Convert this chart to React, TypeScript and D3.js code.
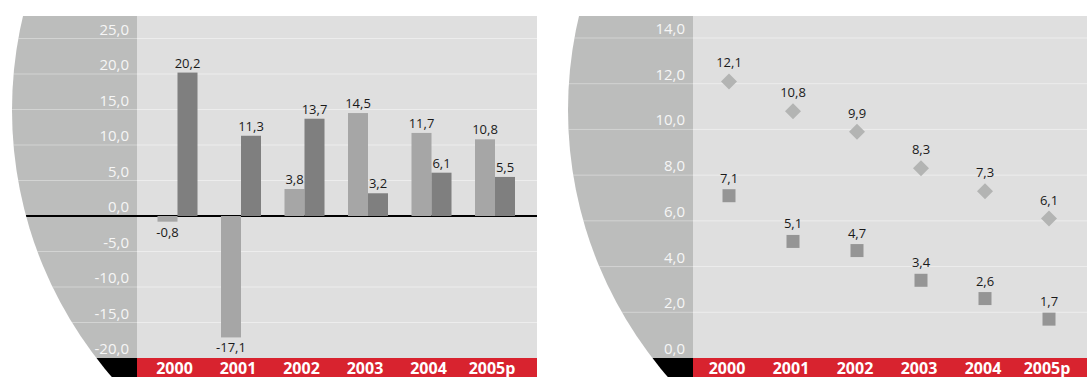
import React from "react";
import * as d3 from "d3";

const years = ["2000", "2001", "2002", "2003", "2004", "2005p"];
const barsLight = [-0.8, -17.1, 3.8, 14.5, 11.7, 10.8];
const barsDark = [20.2, 11.3, 13.7, 3.2, 6.1, 5.5];
const leftTicks = [25, 20, 15, 10, 5, 0, -5, -10, -15, -20];
const diamonds = [12.1, 10.8, 9.9, 8.3, 7.3, 6.1];
const squares = [7.1, 5.1, 4.7, 3.4, 2.6, 1.7];
const rightTicks = [14, 12, 10, 8, 6, 4, 2, 0];

const W = 1087;
const H = 377;
const TOP = 16;
const RED_Y = 358;
const FONT = "'Open Sans', 'Noto Sans', sans-serif";
const fmt = (v: number) => v.toFixed(1).replace(".", ",");

const COL_BG = "#bcbdbc";
const PLOT_BG = "#dfdfdf";
const RED = "#d8232f";

function Panel({
  id,
  colRight,
  plotRight,
  cx,
  y,
  ticks,
  children,
  zeroLine,
}: {
  id: string;
  colRight: number;
  plotRight: number;
  cx: number;
  y: d3.ScaleLinear<number, number>;
  ticks: number[];
  children: React.ReactNode;
  zeroLine: boolean;
}) {
  const cy = 110;
  const R = 407;
  return (
    <g>
      <defs>
        <clipPath id={id}>
          <circle cx={cx} cy={cy} r={R} />
        </clipPath>
      </defs>
      <g clipPath={`url(#${id})`}>
        <rect x={0} y={TOP} width={colRight} height={RED_Y - TOP} fill={COL_BG} />
        <rect x={0} y={RED_Y} width={colRight} height={H - RED_Y} fill="#000" />
        {ticks
          .filter((t) => y(t) < RED_Y - 1)
          .map((t) => (
            <line
              key={t}
              x1={0}
              x2={colRight}
              y1={y(t)}
              y2={y(t)}
              stroke="#fff"
              strokeOpacity={0.35}
              strokeWidth={1}
            />
          ))}
        {zeroLine && (
          <line x1={0} x2={colRight} y1={y(0)} y2={y(0)} stroke="#000" strokeWidth={2} />
        )}
      </g>
      <rect x={colRight} y={TOP} width={plotRight - colRight} height={RED_Y - TOP} fill={PLOT_BG} />
      <rect x={colRight} y={RED_Y} width={plotRight - colRight} height={H - RED_Y} fill={RED} />
      {ticks
        .filter((t) => y(t) < RED_Y - 1 && !(zeroLine && t === 0))
        .map((t) => (
          <line
            key={t}
            x1={colRight}
            x2={plotRight}
            y1={y(t)}
            y2={y(t)}
            stroke="#fff"
            strokeOpacity={0.45}
            strokeWidth={1}
          />
        ))}
      {ticks.map((t) => (
        <text
          key={t}
          x={colRight - 8}
          y={y(t) - 4}
          textAnchor="end"
          fontSize={15}
          fill="#f6f6f6"
          fontFamily={FONT}
        >
          {fmt(t)}
        </text>
      ))}
      {zeroLine && (
        <line x1={colRight} x2={plotRight} y1={y(0)} y2={y(0)} stroke="#000" strokeWidth={2} />
      )}
      {children}
    </g>
  );
}

export default function App() {
  // Left panel
  const yL = d3.scaleLinear().domain([-20, 25]).range([RED_Y, 38.5]);
  const xL = d3.scalePoint<string>().domain(years).range([177.5, 495]);
  const bw = 20;

  // Right panel
  const yR = d3.scaleLinear().domain([0, 14]).range([RED_Y, 38]);
  const xR = d3.scalePoint<string>().domain(years).range([729, 1049]);

  const diamond = d3.symbol().type(d3.symbolSquare).size(128)();

  return (
    <svg
      width={W}
      height={H}
      style={{ position: "absolute", left: 0, top: 0, display: "block" }}
      fontFamily={FONT}
    >
      <rect x={0} y={0} width={W} height={H} fill="#fff" />
      <Panel id="clipL" colRight={137} plotRight={537} cx={419} y={yL} ticks={leftTicks} zeroLine>
        {years.map((yr, i) => {
          const c = xL(yr)!;
          const vL = barsLight[i];
          const vD = barsDark[i];
          return (
            <g key={yr}>
              <rect
                x={c - bw}
                y={Math.min(yL(vL), yL(0))}
                width={bw}
                height={Math.abs(yL(vL) - yL(0))}
                fill="#a6a6a6"
              />
              <rect
                x={c}
                y={Math.min(yL(vD), yL(0))}
                width={bw}
                height={Math.abs(yL(vD) - yL(0))}
                fill="#7f7f7f"
              />
              <text
                x={c - bw / 2}
                y={vL >= 0 ? yL(vL) - 5 : yL(vL) + 15}
                textAnchor="middle"
                fontSize={13}
                fill="#1a1a1a"
              >
                {fmt(vL)}
              </text>
              <text
                x={c + bw / 2}
                y={vD >= 0 ? yL(vD) - 5 : yL(vD) + 15}
                textAnchor="middle"
                fontSize={13}
                fill="#1a1a1a"
              >
                {fmt(vD)}
              </text>
              <text
                x={c - 3}
                y={374}
                textAnchor="middle"
                fontSize={16}
                fontWeight="bold"
                fill="#fff"
              >
                {yr}
              </text>
            </g>
          );
        })}
      </Panel>
      <Panel id="clipR" colRight={693} plotRight={1087} cx={975} y={yR} ticks={rightTicks} zeroLine={false}>
        {years.map((yr, i) => {
          const c = xR(yr)!;
          const dv = diamonds[i];
          const sv = squares[i];
          return (
            <g key={yr}>
              <path d={diamond!} transform={`translate(${c},${yR(dv)}) rotate(45)`} fill="#b3b4b3" />
              <rect x={c - 6.5} y={yR(sv) - 6.5} width={13} height={13} fill="#959595" />
              <text x={c} y={yR(dv) - 14} textAnchor="middle" fontSize={13} fill="#1a1a1a">
                {fmt(dv)}
              </text>
              <text x={c} y={yR(sv) - 13} textAnchor="middle" fontSize={13} fill="#1a1a1a">
                {fmt(sv)}
              </text>
              <text
                x={c - 2}
                y={374}
                textAnchor="middle"
                fontSize={16}
                fontWeight="bold"
                fill="#fff"
              >
                {yr}
              </text>
            </g>
          );
        })}
      </Panel>
    </svg>
  );
}
